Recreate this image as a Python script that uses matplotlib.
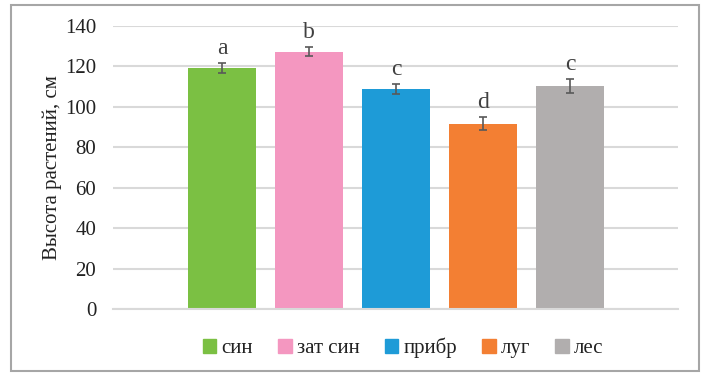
import matplotlib
matplotlib.use("Agg")
import matplotlib.pyplot as plt
from matplotlib.patches import Patch, Rectangle

plt.rcParams['font.family'] = ['Liberation Serif', 'DejaVu Serif']

labels = ["син", "зат син", "прибр", "луг", "лес"]
heights = [119.2, 127.3, 108.9, 91.7, 110.5]
errors = [2.3, 2.2, 2.5, 3.1, 3.4]
letters = ["a", "b", "c", "d", "c"]
colors = ["#7bc043", "#f497c0", "#1e9bd7", "#f37f33", "#b1aeae"]

fig = plt.figure(figsize=(7.06, 3.81), dpi=100)
ax = fig.add_axes([113 / 706, 1 - 309 / 381, (678 - 113) / 706, (309 - 26) / 381])

x = list(range(len(heights)))
ax.bar(x, heights, width=0.78, color=colors, zorder=2)
ax.errorbar(x, heights, yerr=errors, fmt="none", ecolor="#595959",
            elinewidth=1.2, capsize=3, capthick=1.2, zorder=3)
for xi, h, e, l in zip(x, heights, errors, letters):
    ax.text(xi, h + e + 2, l, ha="center", va="bottom", fontsize=17, color="#404040")

ax.set_xlim(-1.253, 5.241)
ax.set_ylim(0, 140)
ax.set_yticks(range(0, 141, 20))
ax.yaxis.grid(True, color="#d9d9d9", linewidth=1.5, zorder=0)
ax.set_axisbelow(True)
for s in ["top", "right", "left"]:
    ax.spines[s].set_visible(False)
ax.spines["bottom"].set_color("#d9d9d9")
ax.spines["bottom"].set_linewidth(1.5)
ax.set_xticks([])
ax.tick_params(axis="y", length=0, labelsize=15, labelcolor="#222222", pad=12)
ax.set_ylabel("Высота растений, см", fontsize=15, labelpad=2, color="#222222")

handles = [Patch(color=c) for c in colors]
fig.legend(handles, labels, loc="center", bbox_to_anchor=(0.571, 1 - 348 / 381),
           ncol=5, frameon=False, fontsize=15, handlelength=0.65, handleheight=0.65,
           handletextpad=0.25, columnspacing=1.2, labelcolor="#222222")

fig.patches.append(Rectangle((11 / 706, 1 - 371 / 381), (699 - 11) / 706, (371 - 5) / 381,
                             transform=fig.transFigure, fill=False,
                             edgecolor="#a6a6a6", linewidth=1.5))

fig.savefig("out.png", dpi=100)
